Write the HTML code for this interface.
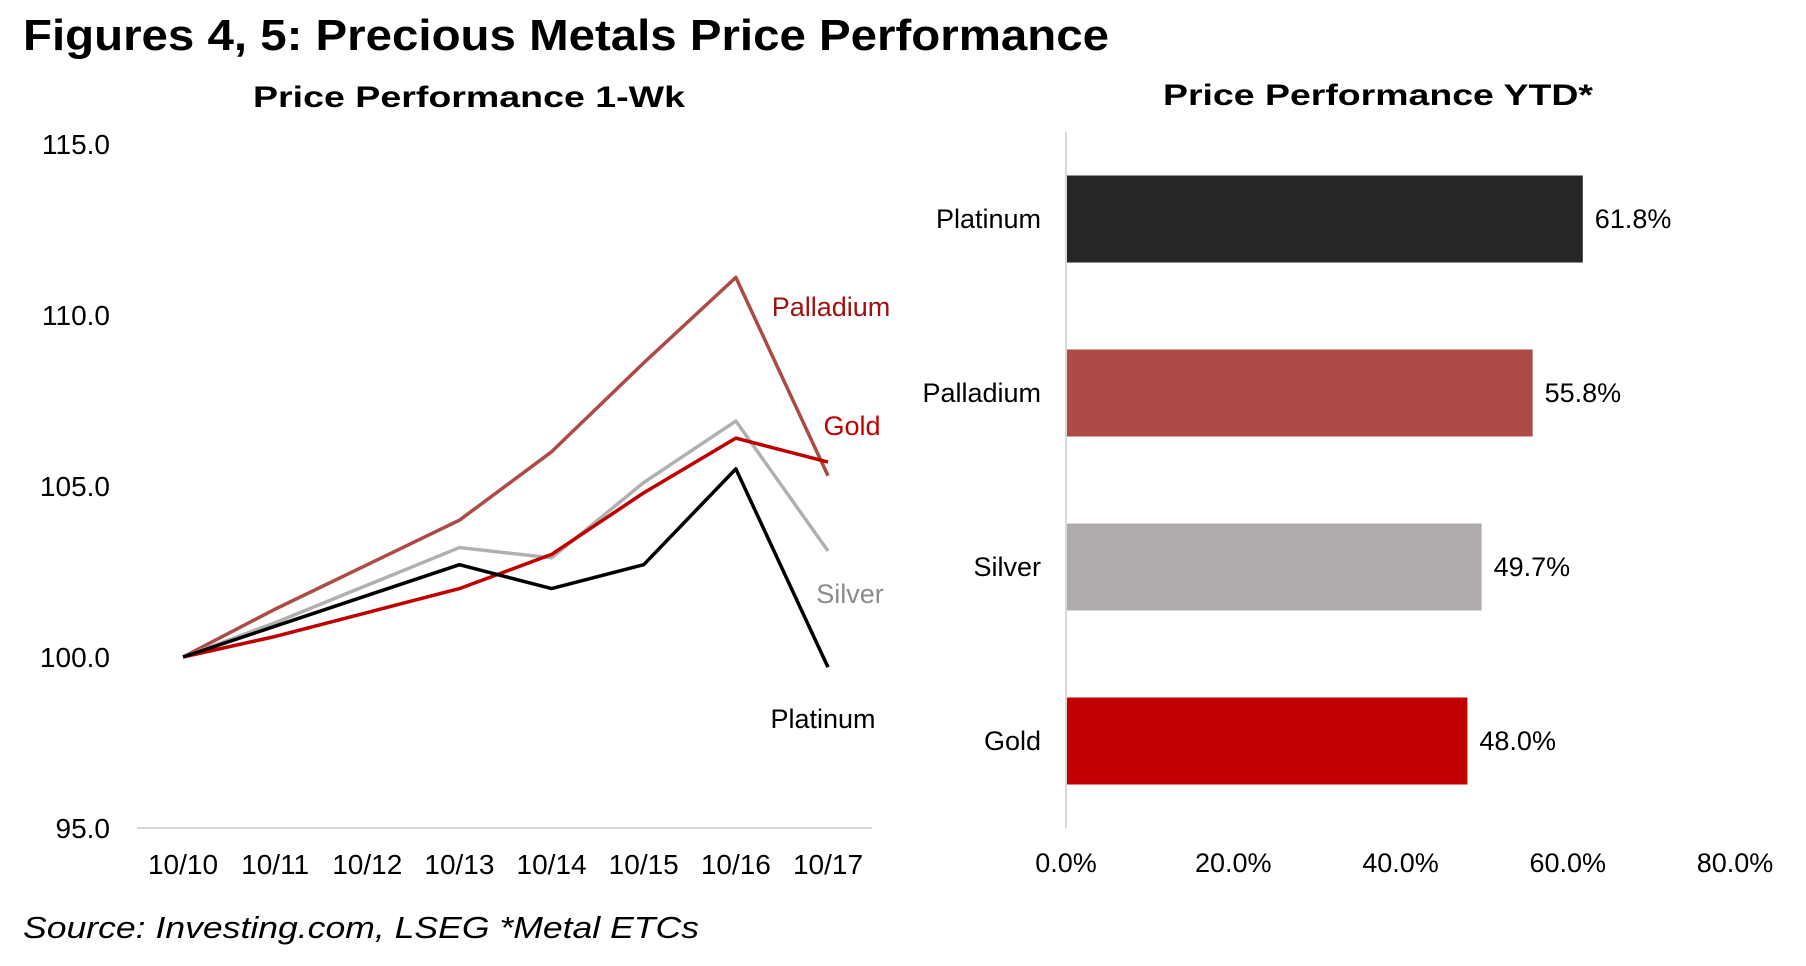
<!DOCTYPE html>
<html><head><meta charset="utf-8"><style>
html,body{margin:0;padding:0;background:#fff;}
svg{display:block;font-family:"Liberation Sans",Arial,sans-serif;}
</style></head><body>
<svg id="c" width="1806" height="966" viewBox="0 0 1806 966">
<text x="23" y="50" font-size="44" font-weight="bold" textLength="1086" lengthAdjust="spacingAndGlyphs">Figures 4, 5: Precious Metals Price Performance</text>
<text x="469" y="107" font-size="30" font-weight="bold" text-anchor="middle" textLength="432" lengthAdjust="spacingAndGlyphs">Price Performance 1-Wk</text>
<text x="1378" y="105" font-size="30" font-weight="bold" text-anchor="middle" textLength="430" lengthAdjust="spacingAndGlyphs">Price Performance YTD*</text>
<text x="23" y="938" font-size="31" font-style="italic" textLength="676" lengthAdjust="spacingAndGlyphs">Source: Investing.com, LSEG *Metal ETCs</text>
<g id="left"></g>
<g id="right"></g>
</svg>
<script>
const dates=["10/10","10/11","10/12","10/13","10/14","10/15","10/16","10/17"];
const yTicks=[95,100,105,110,115];
const palladium=[100,101.4,102.7,104.0,106.0,108.6,111.1,105.3];
const gold=[100,100.6,101.3,102.0,103.0,104.8,106.4,105.7];
const silver=[100,101.0,102.1,103.2,102.9,105.1,106.9,103.1];
const platinum=[100,100.9,101.8,102.7,102.0,102.7,105.5,99.7];
const barCats=["Platinum","Palladium","Silver","Gold"];
const barVals=[61.8,55.8,49.7,48.0];
const xTicks=[0,20,40,60,80];

const NS="http://www.w3.org/2000/svg";
function mk(p,t,a){const e=document.createElementNS(NS,t);for(const k in a)e.setAttribute(k,a[k]);p.appendChild(e);return e;}
const L=document.getElementById('left'),R=document.getElementById('right');
const yS=v=>828-(v-95)*(828-144)/20;
const xS=i=>183+i*(828-183)/7;
let g=mk(L,'line',{x1:137,x2:872,y1:828,y2:828,stroke:'#d9d9d9','stroke-width':2});


yTicks.forEach(v=>{const t=mk(L,'text',{x:110,y:yS(v)+10,'font-size':28,'text-anchor':'end'});t.textContent=v.toFixed(1);

});
dates.forEach((d,i)=>{const t=mk(L,'text',{x:xS(i),y:874,'font-size':28,'text-anchor':'middle'});t.textContent=d;

});
const series=[[palladium,'#ad4a46','Palladium','#a01010',831,316],[silver,'#b0b0b0','Silver','#8c8c8c',850,603],[gold,'#c00000','Gold','#c00000',852,435],[platinum,'#000000','Platinum','#000',823,728]];
series.forEach(s=>{const pts=s[0].map((v,i)=>xS(i)+','+yS(v)).join(' ');
const p=mk(L,'polyline',{points:pts,fill:'none',stroke:s[1],'stroke-width':3.5,'stroke-linejoin':'round'});


const t=mk(L,'text',{x:s[4],y:s[5],'font-size':27,'text-anchor':'middle',fill:s[3]});t.textContent=s[2];

});
const bx=v=>1066+v*(1735-1066)/80;
const top0=132,band=174,bh=87;
const colors=['#262626','#ad4a46','#b0acab','#c00000'];
barCats.forEach((c,i)=>{const y=top0+i*band+(band-bh)/2;
const r=mk(R,'rect',{x:bx(0),y:y,width:bx(barVals[i])-bx(0),height:bh,fill:colors[i]});


const t=mk(R,'text',{x:1041,y:y+bh/2+9,'font-size':27,'text-anchor':'end'});t.textContent=c;


const v=mk(R,'text',{x:bx(barVals[i])+12,y:y+bh/2+9,'font-size':27});v.textContent=barVals[i].toFixed(1)+'%';

});
g=mk(R,'line',{x1:1066,x2:1066,y1:132,y2:828,stroke:'#d9d9d9','stroke-width':2});


xTicks.forEach(v=>{const t=mk(R,'text',{x:bx(v),y:872,'font-size':27,'text-anchor':'middle'});t.textContent=v.toFixed(1)+'%';

});
</script>
</body></html>
